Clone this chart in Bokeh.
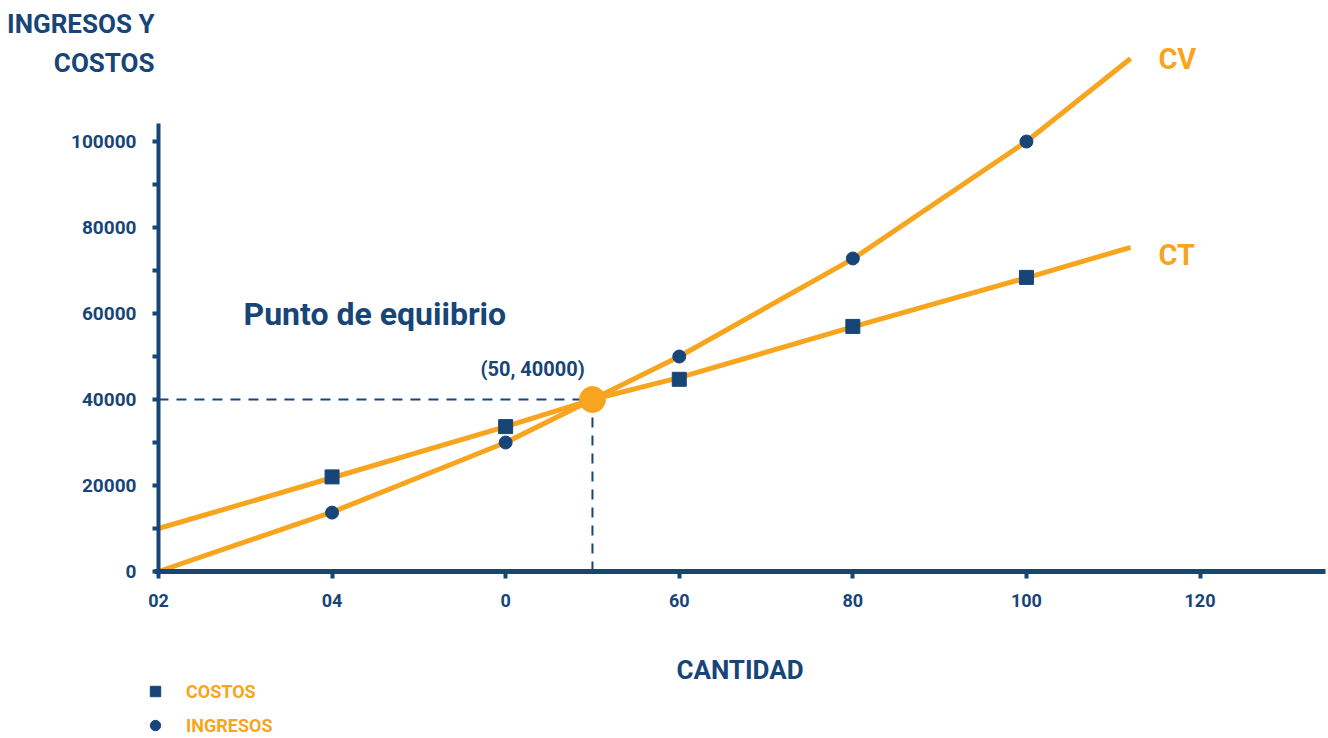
from bokeh.plotting import figure
from bokeh.models import (Range1d, FixedTicker, Label, Legend, LegendItem, LinearAxis,
                          BasicTickFormatter)
from bokeh.embed import file_html
from bokeh.resources import INLINE

# ---- data ----
cantidad = [20, 40, 60, 80, 100]
costos = [22000, 33700, 44700, 57000, 68400]
ingresos = [13700, 30000, 50000, 72800, 100000]

ct_x = [0, 20, 40, 50, 60, 80, 100, 112]
ct_y = [10000, 21800, 33700, 40000, 45100, 56900, 68300, 75400]
cv_x = [0, 20, 40, 50, 60, 80, 100, 112]
cv_y = [0, 13800, 30000, 40000, 50000, 72700, 100000, 119300]

equilibrio_x = [50]
equilibrio_y = [40000]

x_ticks = [0, 20, 40, 60, 80, 100, 120]
x_tick_labels = ["02", "04", "0", "60", "80", "100", "120"]
y_ticks = [0, 20000, 40000, 60000, 80000, 100000]
y_minor_ticks = [10000, 30000, 50000, 70000, 90000]

BLUE = "#174578"
ORANGE = "#F7A51E"
FONT = "Roboto, sans-serif"

# frame covers the whole canvas; axes are pinned at data 0
p = figure(width=1328, height=738, output_backend="svg", toolbar_location=None,
           x_range=Range1d(-18.2, 134.8), y_range=Range1d(-38840, 132800),
           x_axis_type=None, y_axis_type=None,
           min_border_left=0, min_border_right=0, min_border_top=0, min_border_bottom=0)
p.outline_line_color = None
p.xgrid.visible = False
p.ygrid.visible = False

xaxis = LinearAxis(ticker=FixedTicker(ticks=x_ticks),
                   major_label_overrides={t: l for t, l in zip(x_ticks, x_tick_labels)},
                   fixed_location=0, bounds=(-0.4, 134.5))
xaxis.axis_line_color = BLUE
xaxis.axis_line_width = 5
xaxis.major_tick_line_color = BLUE
xaxis.major_tick_line_width = 4
xaxis.major_tick_in = 0
xaxis.major_tick_out = 7
xaxis.minor_tick_line_color = None
xaxis.major_label_text_color = BLUE
xaxis.major_label_text_font = FONT
xaxis.major_label_text_font_style = "bold"
xaxis.major_label_text_font_size = "18px"
xaxis.major_label_standoff = 16
xaxis.axis_label = "CANTIDAD"
xaxis.axis_label_text_color = BLUE
xaxis.axis_label_text_font = FONT
xaxis.axis_label_text_font_style = "bold"
xaxis.axis_label_text_font_size = "26px"
xaxis.axis_label_standoff = 44
p.add_layout(xaxis, "below")

yaxis = LinearAxis(ticker=FixedTicker(ticks=y_ticks, minor_ticks=y_minor_ticks),
                   formatter=BasicTickFormatter(use_scientific=False),
                   fixed_location=0, bounds=(0, 104200))
yaxis.axis_line_color = BLUE
yaxis.axis_line_width = 4
yaxis.major_tick_line_color = BLUE
yaxis.major_tick_line_width = 4
yaxis.major_tick_in = 0
yaxis.major_tick_out = 6
yaxis.minor_tick_line_color = BLUE
yaxis.minor_tick_line_width = 4
yaxis.minor_tick_in = 0
yaxis.minor_tick_out = 6
yaxis.major_label_text_color = BLUE
yaxis.major_label_text_font = FONT
yaxis.major_label_text_font_style = "bold"
yaxis.major_label_text_font_size = "19px"
yaxis.major_label_standoff = 16
p.add_layout(yaxis, "left")

# dashed guide lines to break-even
p.line([0, equilibrio_x[0]], [equilibrio_y[0], equilibrio_y[0]], line_color=BLUE, line_width=2, line_dash="10 8")
p.line([equilibrio_x[0], equilibrio_x[0]], [0, equilibrio_y[0]], line_color=BLUE, line_width=2, line_dash="10 8")

p.line(ct_x, ct_y, line_color=ORANGE, line_width=5)
p.line(cv_x, cv_y, line_color=ORANGE, line_width=5)

r_cost = p.scatter(cantidad, costos, marker="square", size=14, fill_color=BLUE, line_color=BLUE)
r_ing = p.scatter(cantidad, ingresos, marker="circle", size=13, fill_color=BLUE, line_color=BLUE)

p.scatter(equilibrio_x, equilibrio_y, marker="circle", size=26, fill_color=ORANGE, line_color=ORANGE)

def lbl(x, y, text, color, size, align="left", units="data"):
    p.add_layout(Label(x=x, y=y, text=text, x_units=units, y_units=units,
                       text_color=color, text_font=FONT, text_font_style="bold",
                       text_font_size=size, text_align=align, text_baseline="middle"))

lbl(115.2, 119300, "CV", ORANGE, "29px")
lbl(115.2, 73500, "CT", ORANGE, "29px")
lbl(9.8, 60000, "Punto de equiibrio", BLUE, "32px")
lbl(43.1, 47000, "(50, 40000)", BLUE, "20px", align="center")

# title at top-left (screen units)
lbl(154, 715, "INGRESOS Y", BLUE, "26px", align="right", units="screen")
lbl(154, 676, "COSTOS", BLUE, "26px", align="right", units="screen")

legend = Legend(items=[LegendItem(label="COSTOS", renderers=[r_cost]),
                       LegendItem(label="INGRESOS", renderers=[r_ing])],
                location=(142, 0), padding=0, spacing=8,
                glyph_width=26, glyph_height=26, label_height=26, label_standoff=18,
                label_text_color=ORANGE, label_text_font=FONT,
                label_text_font_style="bold", label_text_font_size="18px",
                border_line_color=None, background_fill_alpha=0)
p.add_layout(legend, "center")

open("out.html", "w").write(file_html(p, INLINE))
